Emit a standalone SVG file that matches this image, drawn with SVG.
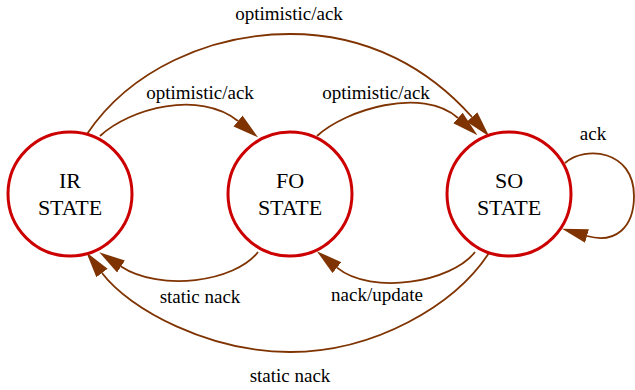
<svg xmlns="http://www.w3.org/2000/svg" width="635" height="390" viewBox="0 0 635 390">
<style>
.node circle{fill:#ffffff;stroke:#cc0000;stroke-width:3}
.node text{font-size:22px;fill:#000000;text-anchor:middle}
.edge{fill:none;stroke:#7f3300;stroke-width:1.8;marker-end:url(#arr)}
.lbl{font-size:19px;fill:#000000;text-anchor:middle}
</style>
<defs>
<marker id="arr" markerUnits="userSpaceOnUse" markerWidth="26" markerHeight="16" viewBox="0 0 24 14" refX="0" refY="7" orient="auto">
<path d="M0,0.5 L24,7 L0,13.5 z" fill="#7f3300"/>
</marker>
</defs>
<rect width="635" height="390" fill="#ffffff"/>
<g font-family="Liberation Serif, Tinos, DejaVu Serif, serif">
<g id="connectors">
<path class="edge" d="M87,134 C130,70 210,34 290,34 C370,34 430,70 472,117"/>
<path class="edge" d="M100,136 C130,108 200,90 238,121"/>
<path class="edge" d="M317,136 C345,110 422,86 458,118"/>
<path class="edge" d="M258,252 C235,282 160,292 121,266.5"/>
<path class="edge" d="M475,252 C452,282 372,296 337,267.6"/>
<path class="edge" d="M489,253 C455,305 375,352 290,352 C210,352 130,310 102,273"/>
<path class="edge" d="M565,163 C585,145 634,150 634,196 C634,228 615,244 587,236"/>
<text class="lbl" x="289" y="20">optimistic/ack</text>
<text class="lbl" x="200" y="99">optimistic/ack</text>
<text class="lbl" x="376" y="99">optimistic/ack</text>
<text class="lbl" x="200" y="303">static nack</text>
<text class="lbl" x="377" y="301">nack/update</text>
<text class="lbl" x="290" y="382">static nack</text>
<text class="lbl" x="593" y="140">ack</text>
</g>
<g id="IR" class="node">
<circle cx="70" cy="194" r="62"/>
<text x="70" y="188">IR</text>
<text x="70" y="215">STATE</text>
</g>
<g id="FO" class="node">
<circle cx="290" cy="194" r="62"/>
<text x="290" y="188">FO</text>
<text x="290" y="215">STATE</text>
</g>
<g id="SO" class="node">
<circle cx="509" cy="194" r="62"/>
<text x="509" y="188">SO</text>
<text x="509" y="215">STATE</text>
</g>
</g>
</svg>
